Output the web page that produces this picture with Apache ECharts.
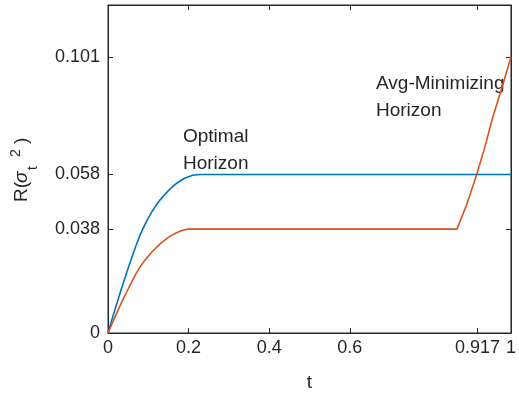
<!DOCTYPE html>
<html>
<head>
<meta charset="utf-8">
<script src="https://cdn.jsdelivr.net/npm/echarts@6/dist/echarts.min.js"></script>
<style>
  html, body { margin: 0; padding: 0; background: #fff; }
  #main { width: 519px; height: 401px; }
</style>
</head>
<body>
<div id="main"></div>
<script>
// values
const optT = [0, 0.01, 0.02, 0.03, 0.04, 0.05, 0.06, 0.07, 0.08, 0.09, 0.10, 0.11, 0.12, 0.13, 0.14, 0.15, 0.16, 0.17, 0.18, 0.19, 0.20, 0.21, 0.22, 0.23, 1]
const optR = [0, 0.0050, 0.0099, 0.0146, 0.0192, 0.0237, 0.0280, 0.0322, 0.0360, 0.0392, 0.0420, 0.0446, 0.0469, 0.0488, 0.0505, 0.0521, 0.0535, 0.0547, 0.0557, 0.0566, 0.0572, 0.0577, 0.0579, 0.058, 0.058]

const avgT = [0, 0.01, 0.02, 0.03, 0.04, 0.05, 0.06, 0.07, 0.08, 0.09, 0.10, 0.11, 0.12, 0.13, 0.14, 0.15, 0.16, 0.17, 0.18, 0.19, 0.20, 0.866, 0.89, 0.915, 0.935, 0.955, 0.978, 1]
const avgR = [0, 0.0034, 0.0067, 0.0100, 0.0131, 0.0161, 0.0190, 0.0218, 0.0243, 0.0263, 0.0281, 0.0298, 0.0313, 0.0327, 0.0339, 0.0350, 0.0359, 0.0367, 0.0373, 0.0378, 0.038, 0.038, 0.047, 0.058, 0.068, 0.079, 0.09, 0.101]

const xTicks = [0, 0.2, 0.4, 0.6, 0.917, 1]
const yTicks = [0, 0.038, 0.058, 0.101]

const axisColor = '#262626'
const fontFam = '"Liberation Sans", Arial, sans-serif'

const chart = echarts.init(document.getElementById('main'))

const mkAxisLine = () => ({ show: true, onZero: false, lineStyle: { color: axisColor, width: 1 } })
const mkTick = (vals) => ({ show: true, inside: true, length: 5, lineStyle: { color: axisColor }, customValues: vals })

const option = {
  animation: false,
  // grid border gives the top and right sides of the box
  grid: { left: 108, right: 4, top: 5, bottom: 68, show: true, borderColor: axisColor, borderWidth: 1, backgroundColor: 'transparent' },
  xAxis: [
    {
      type: 'value',
      gridIndex: 0,
      min: 0,
      max: 1,
      position: 'bottom',
      name: 't',
      nameLocation: 'middle',
      nameGap: 40,
      nameTextStyle: { color: axisColor, fontSize: 19, fontFamily: fontFam },
      axisLine: mkAxisLine(),
      splitLine: { show: false },
      axisTick: mkTick(xTicks),
      axisLabel: {
        color: axisColor, fontSize: 18, fontFamily: fontFam, margin: 6,
        customValues: xTicks,
        formatter: (v) => String(v)
      }
    },
    {
      // mirrored ticks on top
      type: 'value',
      gridIndex: 0,
      min: 0,
      max: 1,
      position: 'top',
      axisLine: mkAxisLine(),
      splitLine: { show: false },
      axisTick: mkTick(xTicks),
      axisLabel: { show: false, customValues: xTicks }
    }
  ],
  yAxis: [
    {
      type: 'value',
      gridIndex: 0,
      min: 0,
      max: 0.12,
      position: 'left',
      axisLine: mkAxisLine(),
      splitLine: { show: false },
      axisTick: mkTick(yTicks),
      axisLabel: {
        color: axisColor, fontSize: 18, fontFamily: fontFam, margin: 8,
        customValues: yTicks,
        formatter: (v) => String(v)
      }
    },
    {
      // mirrored ticks on the right
      type: 'value',
      gridIndex: 0,
      min: 0,
      max: 0.12,
      position: 'right',
      axisLine: mkAxisLine(),
      splitLine: { show: false },
      axisTick: mkTick(yTicks),
      axisLabel: { show: false, customValues: yTicks }
    }
  ],
  series: [
    {
      name: 'Optimal Horizon',
      type: 'line',
      data: optT.map((t, i) => [t, optR[i]]),
      showSymbol: false,
      lineStyle: { color: '#0072BD', width: 1.6 }
    },
    {
      name: 'Avg-Minimizing Horizon',
      type: 'line',
      data: avgT.map((t, i) => [t, avgR[i]]),
      showSymbol: false,
      lineStyle: { color: '#D95319', width: 1.6 }
    },
    {
      // empty series so the mirror axes get drawn
      type: 'line',
      xAxisIndex: 1,
      yAxisIndex: 1,
      data: [],
      silent: true
    }
  ],
  graphic: [
    // annotations
    { type: 'text', left: 183, top: 123, style: { text: 'Optimal\nHorizon', fill: axisColor, font: '19px ' + fontFam, lineHeight: 27 } },
    { type: 'text', left: 376, top: 70, style: { text: 'Avg-Minimizing\nHorizon', fill: axisColor, font: '19px ' + fontFam, lineHeight: 27 } },
    // y label R(σ_t^2), rotated
    {
      type: 'group',
      x: 31,
      y: 202,
      rotation: Math.PI / 2,
      children: [
        { type: 'text', x: 0, y: 0, style: { text: 'R(', fill: axisColor, font: '19px ' + fontFam, verticalAlign: 'bottom' } },
        { type: 'text', x: 19, y: 0, style: { text: 'σ', fill: axisColor, font: 'italic 19px ' + fontFam, verticalAlign: 'bottom' } },
        { type: 'text', x: 32, y: 9, style: { text: 't', fill: axisColor, font: '14px ' + fontFam, verticalAlign: 'bottom' } },
        { type: 'text', x: 45, y: -8, style: { text: '2', fill: axisColor, font: '14px ' + fontFam, verticalAlign: 'bottom' } },
        { type: 'text', x: 58, y: 0, style: { text: ')', fill: axisColor, font: '19px ' + fontFam, verticalAlign: 'bottom' } }
      ]
    }
  ]
}

option && chart.setOption(option)
</script>
</body>
</html>
